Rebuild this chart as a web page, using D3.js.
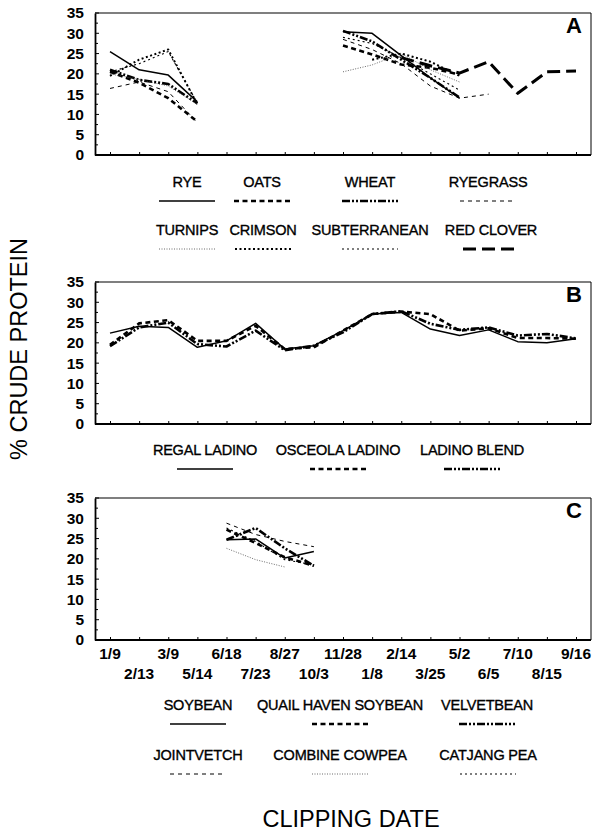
<!DOCTYPE html>
<html><head><meta charset="utf-8">
<script src="https://cdn.jsdelivr.net/npm/d3@7"></script>
<style>body{margin:0;background:#fff}svg{display:block}text{font-family:"Liberation Sans",Arial,sans-serif;fill:#000}</style>
</head><body>
<script>
const dates = ["1/9","2/13","3/9","5/14","6/18","7/23","8/27","10/3","11/28","1/8","2/14","3/25","5/2","6/5","7/10","8/15","9/16"];
const yTicks = [0,5,10,15,20,25,30,35];
const N = null;
// Panel A
const rye          = [25.5,21,19.7,13.1,N,N,N,N,30.4,30,24.5,19,14,N,N,N,N];
const oats         = [20.5,17.8,14,8.2,N,N,N,N,27,24.8,22.3,21.5,19.8,N,N,N,N];
const wheat        = [21,18.5,17.5,12.7,N,N,N,N,30.6,28,23.5,19,14.2,N,N,N,N];
const ryegrass     = [16.4,18,15.6,8,N,N,N,N,28.5,26,22.5,17,14,15,N,N,N];
const turnips      = [20,18.6,17,12.5,N,N,N,N,20.5,22.2,25,21,18,N,N,N,N];
const crimson      = [19.5,23.5,26,12.5,N,N,N,N,N,23.5,25,23,19.5,N,N,N,N];
const subterranean = [20.5,22.5,25.5,12.8,N,N,N,N,29,27.5,24,20,16,N,N,N,N];
const redClover    = [N,N,N,N,N,N,N,N,N,N,24,22,20.2,23,15.2,20.5,20.7];
// Panel B
const regal   = [22.4,24.1,23.8,18.9,20.5,24.8,18.5,19.3,23,27.1,27.5,23.4,21.8,23.2,20.3,20,21];
const osceola = [19.5,24.8,25.6,20.5,20.5,24.2,18.5,18.9,23,27.1,27.7,27.1,23,23.6,21.2,21.2,21];
const blend   = [19.2,23.8,25,19.7,19.1,23,18.2,19.3,22.6,27.1,27.8,24.7,23.2,23.8,21.8,22.2,21.1];
// Panel C
const soybean     = [N,N,N,N,24.7,24.9,20.2,21.8,N,N,N,N,N,N,N,N,N];
const quailHaven  = [N,N,N,N,27.2,23.9,20.4,18.3,N,N,N,N,N,N,N,N,N];
const velvetbean  = [N,N,N,N,24.7,27.6,22.6,18.3,N,N,N,N,N,N,N,N,N];
const jointvetch  = [N,N,N,N,28.8,26,24.3,23,N,N,N,N,N,N,N,N,N];
const cowpea      = [N,N,N,N,22.6,19.8,18,N,N,N,N,N,N,N,N,N,N];
const catjang     = [N,N,N,N,27.6,24.3,19.8,18.5,N,N,N,N,N,N,N,N,N];

const ST = {
  solid:   {w:1.5, d:null, c:"#000"},
  thickDash:{w:2.6, d:"5,3.5", c:"#000"},
  dashDot: {w:2.6, d:"8,2,2,2,2,2", c:"#000"},
  thinDash:{w:1, d:"4,4", c:"#000"},
  fineDot: {w:0.8, d:"1,1.5", c:"#444"},
  boldDot: {w:2, d:"2,2.5", c:"#000"},
  dot:     {w:1.1, d:"2,3", c:"#000"},
  longDash:{w:3, d:"13,6", c:"#000"}
};

const W=593,H=831;
const svg=d3.select("body").append("svg").attr("width",W).attr("height",H);
const x0=95,x1=591;
const x=d3.scalePoint().domain(dates).range([110,576]);

const panels=[
 {top:13,bot:155,letter:"A",series:[
   [rye,"solid"],[oats,"thickDash"],[wheat,"dashDot"],[ryegrass,"thinDash"],
   [turnips,"fineDot"],[crimson,"boldDot"],[subterranean,"dot"],[redClover,"longDash"]],
  legend:[
   {y:187,items:[["RYE",187,"solid"],["OATS",262,"thickDash"],["WHEAT",370,"dashDot"],["RYEGRASS",488,"thinDash"]]},
   {y:235,items:[["TURNIPS",187,"fineDot"],["CRIMSON",263,"boldDot"],["SUBTERRANEAN",370,"dot"],["RED CLOVER",491,"longDash"]]}]},
 {top:282,bot:424,letter:"B",series:[[regal,"solid"],[osceola,"thickDash"],[blend,"dashDot"]],
  legend:[{y:455,items:[["REGAL LADINO",205,"solid"],["OSCEOLA LADINO",338,"thickDash"],["LADINO BLEND",472,"dashDot"]]}]},
 {top:498,bot:640,letter:"C",series:[[soybean,"solid"],[quailHaven,"thickDash"],[velvetbean,"dashDot"],[jointvetch,"thinDash"],[cowpea,"fineDot"],[catjang,"dot"]],
  legend:[
   {y:710,items:[["SOYBEAN",198,"solid"],["QUAIL HAVEN SOYBEAN",340,"thickDash"],["VELVETBEAN",487,"dashDot"]]},
   {y:760,items:[["JOINTVETCH",198,"thinDash"],["COMBINE COWPEA",340,"fineDot"],["CATJANG PEA",488,"dot"]]}]}
];

panels.forEach((p,pi)=>{
  const y=d3.scaleLinear().domain([0,35]).range([p.bot,p.top]);
  const g=svg.append("g");
  g.append("line").attr("x1",x0).attr("x2",x1).attr("y1",p.top).attr("y2",p.top).attr("stroke","#000").attr("stroke-width",1.2);
  g.append("line").attr("x1",x1).attr("x2",x1).attr("y1",p.top).attr("y2",p.bot).attr("stroke","#000").attr("stroke-width",1);
  const ya=g.append("g").attr("transform",`translate(${x0},0)`)
    .call(d3.axisLeft(y).tickValues(yTicks).tickSize(0).tickPadding(11).tickFormat(d3.format("d")));
  ya.select(".domain").attr("stroke-width",1.8);
  ya.selectAll("text").attr("font-size",15.5).attr("font-weight","bold").attr("fill","#000");
  const minor=d3.range(0,35.1,2.5);
  g.selectAll(".ym").data(minor).join("line").attr("x1",x0).attr("x2",d=>x0+(d%5===0?4:3))
    .attr("y1",d=>y(d)).attr("y2",d=>y(d)).attr("stroke","#000").attr("stroke-width",1);
  const xa=g.append("g").attr("transform",`translate(0,${p.bot})`)
    .call(d3.axisTop(x).tickSize(3).tickFormat(""));
  xa.select(".domain").attr("d",`M${x0},0H${x1}`).attr("stroke-width",1.8);
  g.append("text").attr("x",574).attr("y",p.top+20).attr("text-anchor","middle").attr("font-size",22).attr("font-weight","bold").text(p.letter);
  const line=d3.line().defined(d=>d.v!==null).x(d=>x(d.k)).y(d=>y(d.v));
  p.series.forEach(([arr,st])=>{
    const s=ST[st];
    g.append("path").datum(arr.map((v,i)=>({k:dates[i],v})))
      .attr("d",line).attr("fill","none").attr("stroke",s.c).attr("stroke-width",s.w)
      .attr("stroke-dasharray",s.d).attr("stroke-linejoin","round");
  });
  p.legend.forEach(row=>{
    row.items.forEach(([lab,cx,st])=>{
      const s=ST[st];
      g.append("text").attr("x",cx).attr("y",row.y).attr("text-anchor","middle").attr("font-size",14.5)
        .attr("letter-spacing",-0.2).attr("stroke","#000").attr("stroke-width",0.35).text(lab);
      g.append("line").attr("x1",cx-28).attr("x2",cx+28).attr("y1",row.y+14).attr("y2",row.y+14)
        .attr("stroke",s.c).attr("stroke-width",s.w).attr("stroke-dasharray",s.d);
    });
  });
});

svg.selectAll(".xl").data(dates).join("text")
  .attr("x",d=>x(d)).attr("y",(d,i)=>i%2===0?659:679).attr("text-anchor","middle")
  .attr("font-size",15.5).attr("font-weight","bold").text(d=>d);

svg.append("text").attr("transform","translate(27,349) rotate(-90)").attr("text-anchor","middle").attr("font-size",23.5).text("% CRUDE PROTEIN");
svg.append("text").attr("x",351).attr("y",827).attr("text-anchor","middle").attr("font-size",23.5).text("CLIPPING DATE");
</script>
</body></html>
